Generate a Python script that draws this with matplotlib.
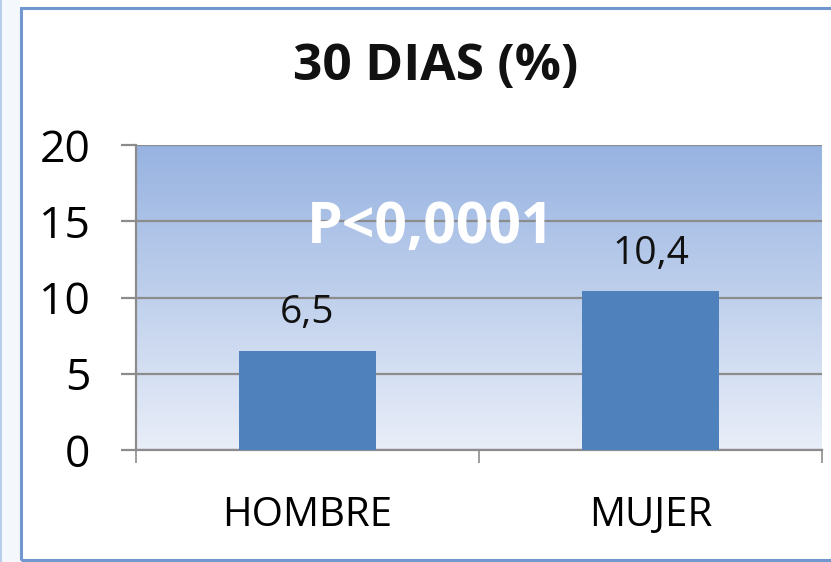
import matplotlib
matplotlib.use("Agg")

import matplotlib.pyplot as plt
import numpy as np
from matplotlib.colors import LinearSegmentedColormap
from matplotlib.patches import Rectangle

categories = ['HOMBRE', 'MUJER']
values = [6.5, 10.4]
value_labels = ['6,5', '10,4']
title = '30 DIAS (%)'
p_text = 'P<0,0001'
yticks = [0, 5, 10, 15, 20]

plt.rcParams['font.family'] = ['Open Sans', 'DejaVu Sans']

W, H = 831, 562
fig = plt.figure(figsize=(W / 100, H / 100), dpi=100)
fig.patch.set_facecolor('white')

# faint strip and border around the chart object
fig.patches.append(Rectangle((0, 0), 20 / W, 1, transform=fig.transFigure,
                             facecolor='#F4F7FC', edgecolor='none', zorder=0))
fig.patches.append(Rectangle((0, 0), 1.5 / W, 1, transform=fig.transFigure,
                             facecolor='#B9CDEB', edgecolor='none', zorder=0))
fig.patches.append(Rectangle((21 / W, 2 / H), 1.2, 552 / H, transform=fig.transFigure,
                             fill=False, edgecolor='#7098CF', linewidth=2.2, zorder=1))

ax = fig.add_axes([136 / W, 1 - 450 / H, 686 / W, 305 / H])

# vertical gradient background of the plot area
cmap = LinearSegmentedColormap.from_list('bg', ['#E9EEF8', '#97B3E1'])
grad = np.linspace(0, 1, 256).reshape(-1, 1)
ax.imshow(grad, cmap=cmap, aspect='auto', origin='lower',
          extent=(-0.5, 1.5, 0, 20), zorder=0)

x = np.arange(len(categories))
ax.bar(x, values, width=0.4, color='#4F81BD', zorder=3)

for xi, v, lab in zip(x, values, value_labels):
    ax.text(xi, v + 1.8, lab, ha='center', va='baseline', fontsize=28,
            color='#111111', zorder=4)

ax.text(0.36, 13.55, p_text, ha='center', va='baseline', fontsize=41,
        fontweight='bold', color='white', zorder=4)

ax.set_xlim(-0.5, 1.5)
ax.set_ylim(0, 20)
ax.set_yticks(yticks)
ax.set_yticklabels([str(t) for t in yticks], fontsize=32)
ax.yaxis.grid(True, color='#8C8C8C', linewidth=1.6, zorder=1)
ax.set_axisbelow(True)

# x ticks at the category boundaries, labels at the centres
ax.set_xticks([-0.5, 0.5, 1.5])
ax.set_xticklabels([])
ax.set_xticks(x, minor=True)
ax.set_xticklabels(categories, minor=True, fontsize=29, va='baseline')
ax.tick_params(axis='x', which='minor', length=0, pad=55)
ax.tick_params(axis='x', which='major', length=9.5, width=1.2, color='#8C8C8C')
ax.tick_params(axis='y', length=11, width=1.6, color='#8C8C8C', pad=22)

for side in ['top', 'right']:
    ax.spines[side].set_visible(False)
for side in ['left', 'bottom']:
    ax.spines[side].set_color('#8C8C8C')
    ax.spines[side].set_linewidth(1.6)

fig.text(436 / W, 1 - 80 / H, title, ha='center', va='baseline', fontsize=37,
         fontweight='bold', color='#111111')

plt.savefig('out.png', dpi=100)
